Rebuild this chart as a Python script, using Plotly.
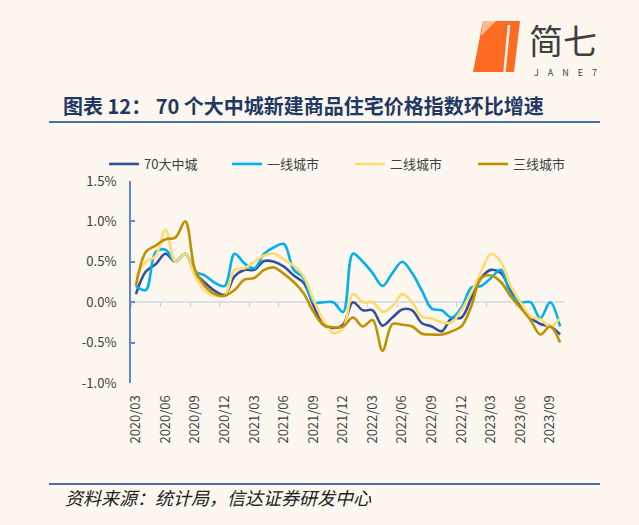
import plotly.graph_objects as go

# ---------------- data ----------------
months = [f"{y}/{m:02d}" for y, m in
          [(2020, m) for m in range(3, 13)] + [(2021, m) for m in range(1, 13)] +
          [(2022, m) for m in range(1, 13)] + [(2023, m) for m in range(1, 11)]]

city70 = [0.10, 0.38, 0.47, 0.60, 0.50, 0.60, 0.36, 0.24, 0.14, 0.09,
          0.32, 0.40, 0.40, 0.51, 0.50, 0.44, 0.33, 0.24, -0.04, -0.28,
          -0.32, -0.28, 0.00, -0.10, -0.10, -0.29, -0.19, -0.09, -0.10, -0.26,
          -0.30, -0.36, -0.20, -0.19, 0.05, 0.30, 0.40, 0.36, 0.14, -0.05,
          -0.19, -0.27, -0.30, -0.40]
tier1 = [0.20, 0.15, 0.62, 0.65, 0.50, 0.60, 0.38, 0.33, 0.24, 0.20,
         0.60, 0.48, 0.42, 0.60, 0.68, 0.72, 0.40, 0.30, 0.00, 0.00,
         0.00, -0.12, 0.60, 0.50, 0.36, 0.20, 0.36, 0.50, 0.36, 0.14,
         -0.08, -0.10, -0.19, -0.07, 0.18, 0.20, 0.30, 0.40, 0.10, 0.00,
         0.00, -0.20, 0.00, -0.30]
tier2 = [0.30, 0.50, 0.57, 0.90, 0.50, 0.60, 0.32, 0.14, 0.08, 0.08,
         0.40, 0.42, 0.50, 0.58, 0.60, 0.53, 0.45, 0.32, 0.03, -0.22,
         -0.38, -0.32, 0.10, 0.00, 0.00, -0.12, -0.05, 0.10, 0.00, -0.18,
         -0.20, -0.25, -0.25, -0.10, 0.12, 0.38, 0.60, 0.50, 0.20, 0.00,
         -0.18, -0.21, -0.30, -0.20]
tier3 = [0.20, 0.62, 0.70, 0.78, 0.80, 1.00, 0.40, 0.20, 0.10, 0.08,
         0.15, 0.28, 0.30, 0.40, 0.43, 0.35, 0.25, 0.11, -0.12, -0.28,
         -0.31, -0.30, -0.19, -0.30, -0.22, -0.60, -0.27, -0.28, -0.30, -0.39,
         -0.40, -0.40, -0.36, -0.30, -0.05, 0.30, 0.33, 0.25, 0.07, -0.07,
         -0.22, -0.40, -0.30, -0.50]

series_names = ["70大中城", "一线城市", "二线城市", "三线城市"]
series_vals = [city70, tier1, tier2, tier3]
series_colors = ["#34509A", "#00B0F0", "#FFDA6E", "#BF9000"]

y_tickvals = [-1.0, -0.5, 0.0, 0.5, 1.0, 1.5]
y_ticktext = ["-1.0%", "-0.5%", "0.0%", "0.5%", "1.0%", "1.5%"]

title_text = "图表 12：\u00a070 个大中城新建商品住宅价格指数环比增速"
source_text = "资料来源：统计局，信达证券研发中心"

# ---------------- figure ----------------
BG = "#FDF7EF"
FONT = "Noto Sans CJK SC, Microsoft YaHei, sans-serif"
W, H = 639, 525
ML, MR, MT, MB = 131, 74, 181, 142
PW, PH = W - ML - MR, H - MT - MB


def px(x):
    return (x - ML) / PW


def py(y):
    return (H - MB - y) / PH


idx = list(range(len(months)))
fig = go.Figure()
for name, vals, col in zip(series_names, series_vals, series_colors):
    fig.add_trace(go.Scatter(x=idx, y=vals, name=name, mode="lines",
                             line=dict(color=col, width=2.6, shape="spline", smoothing=1)))

# dummy trace to carry the zero-line axis with its ticks
fig.add_trace(go.Scatter(x=[None], y=[None], xaxis="x2", showlegend=False, hoverinfo="skip"))

label_idx = idx[::3]
fig.update_layout(
    width=W, height=H,
    margin=dict(l=ML, r=MR, t=MT, b=MB),
    paper_bgcolor=BG, plot_bgcolor=BG,
    font=dict(family=FONT, size=13, color="#404040"),
    showlegend=True,
    legend=dict(orientation="h", x=px(104), y=py(164), xanchor="left", yanchor="middle",
                entrywidth=78, entrywidthmode="pixels", bgcolor="rgba(0,0,0,0)",
                font=dict(size=13, color="#404040"), traceorder="normal"),
    xaxis=dict(range=[-0.5, len(months) - 0.5], tickmode="array",
               tickvals=label_idx, ticktext=[months[i] for i in label_idx],
               tickangle=-90, ticks="outside", ticklen=6, tickcolor="rgba(0,0,0,0)",
               showline=False, showgrid=False, zeroline=False,
               tickfont=dict(size=13, color="#404040")),
    xaxis2=dict(overlaying="x", anchor="free", position=0.4, side="bottom",
                range=[-0.5, len(months) - 0.5], tickmode="array",
                tickvals=[i - 0.5 for i in label_idx], ticks="outside", ticklen=4,
                tickwidth=1, tickcolor="#C9CED6", showticklabels=False,
                showline=True, linecolor="#DCE0E6", linewidth=2, layer="below traces",
                showgrid=False, zeroline=False),
    yaxis=dict(range=[-1.0, 1.5], tickmode="array", tickvals=y_tickvals, ticktext=y_ticktext,
               showline=True, linecolor="#5B87D6", linewidth=2, ticks="inside",
               ticklen=4, tickwidth=2, tickcolor="#5B87D6", showgrid=False, zeroline=False,
               ticklabelstandoff=10, tickfont=dict(size=13, color="#404040")),
)

shapes = [
    # title underline and bottom rule
    dict(type="line", xref="paper", yref="paper", x0=px(49), x1=px(600), y0=py(122), y1=py(122),
         line=dict(color="#4A6FA5", width=2)),
    dict(type="line", xref="paper", yref="paper", x0=px(49), x1=px(600), y0=py(484), y1=py(484),
         line=dict(color="#4A6FA5", width=2)),
    # logo
    dict(type="path", xref="paper", yref="paper",
         path=f"M{px(483)},{py(21)} L{px(520)},{py(21)} L{px(514)},{py(72)} L{px(473)},{py(72)} Z",
         fillcolor="#FF6B22", line=dict(width=0)),
    dict(type="path", xref="paper", yref="paper",
         path=f"M{px(483)},{py(21)} L{px(496)},{py(21)} L{px(481)},{py(36)} Z",
         fillcolor="#FDBB8E", line=dict(width=0)),
    dict(type="line", xref="paper", yref="paper", x0=px(509), x1=px(504.5), y0=py(25), y1=py(72),
         line=dict(color=BG, width=2.5)),
]

annotations = [
    dict(text=f"<b>{title_text}</b>", xref="paper", yref="paper", x=px(61), y=py(106),
         xanchor="left", yanchor="middle", showarrow=False,
         font=dict(family=FONT, size=20, color="#1F3864")),
    dict(text=source_text, xref="paper", yref="paper", x=px(63), y=py(497),
         xanchor="left", yanchor="middle", showarrow=False,
         font=dict(family=FONT, size=18, color="#222222", style="italic")),
    dict(text="简七", xref="paper", yref="paper", x=px(563), y=py(39),
         xanchor="center", yanchor="middle", showarrow=False, borderpad=0,
         font=dict(family=FONT, size=34, color="#404040")),
    dict(text="J\u2003A\u2003N\u2003E\u20037", xref="paper", yref="paper", x=px(565), y=py(72),
         xanchor="center", yanchor="middle", showarrow=False, borderpad=0,
         font=dict(family=FONT, size=9, color="#404040")),
]
fig.update_layout(shapes=shapes, annotations=annotations)

fig.write_html("out.html")
